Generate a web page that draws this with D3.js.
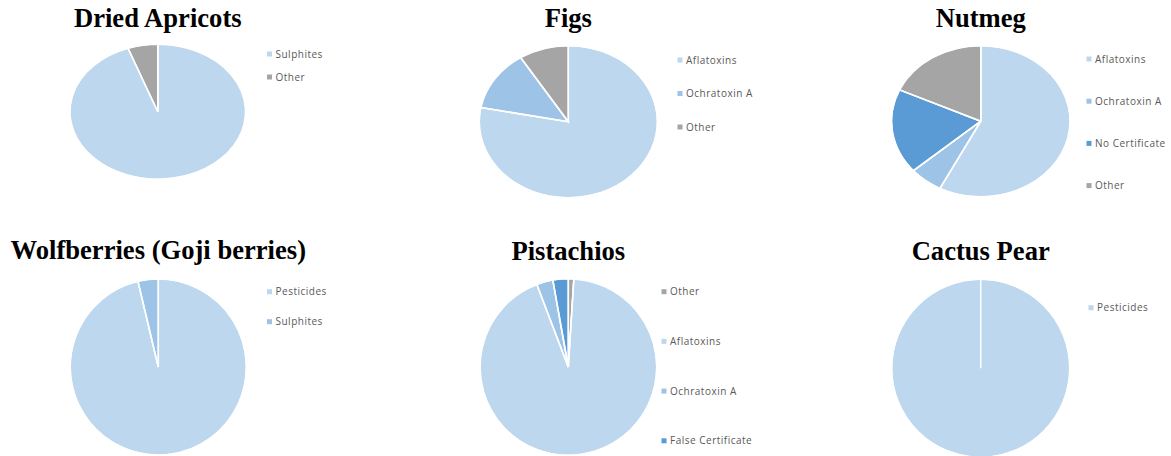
<!DOCTYPE html>
<html>
<head>
<meta charset="utf-8">
<script src="https://cdn.jsdelivr.net/npm/d3@7"></script>
<style>
  html, body { margin: 0; padding: 0; background: #fff; }
  svg { display: block; }
  .title { font-family: "Liberation Serif", "Times New Roman", serif; font-weight: bold; font-size: 26.6px; fill: #000; }
  .legend text { font-family: "Open Sans", "Liberation Sans", sans-serif; font-size: 10px; letter-spacing: 0.5px; fill: #595959; }
</style>
</head>
<body>
<svg id="chart" width="1171" height="456"></svg>
<script>
// Product titles
const products = ["Dried Apricots", "Figs", "Nutmeg", "Wolfberries (Goji berries)", "Pistachios", "Cactus Pear"];

// Hazard categories and shares per product (clockwise from 12 o'clock)
const apricotHazards = ["Sulphites", "Other"];
const apricotValues  = [94.5, 5.5];

const figHazards = ["Aflatoxins", "Ochratoxin A", "Other"];
const figValues  = [78, 13, 9];

const nutmegHazards = ["Aflatoxins", "Ochratoxin A", "No Certificate", "Other"];
const nutmegValues  = [19, 2, 6, 6];

const gojiHazards = ["Pesticides", "Sulphites"];
const gojiValues  = [26, 1];

const pistachioHazards = ["Other", "Aflatoxins", "Ochratoxin A", "False Certificate"];
const pistachioValues  = [1, 93.2, 3, 2.8];

const cactusHazards = ["Pesticides"];
const cactusValues  = [100];

// Colour for each hazard category
const hazardColor = {
  "Sulphites": "#BDD7EE",
  "Aflatoxins": "#BDD7EE",
  "Pesticides": "#BDD7EE",
  "Ochratoxin A": "#9DC3E6",
  "No Certificate": "#5B9BD5",
  "False Certificate": "#5B9BD5",
  "Other": "#A5A5A5"
};
// The Wolfberries sulphite slice sits next to pesticides and takes the second tone
const gojiColor = { "Pesticides": "#BDD7EE", "Sulphites": "#9DC3E6" };

const datasets = [
  { labels: apricotHazards,   values: apricotValues,   colors: hazardColor },
  { labels: figHazards,       values: figValues,       colors: hazardColor },
  { labels: nutmegHazards,    values: nutmegValues,    colors: hazardColor },
  { labels: gojiHazards,      values: gojiValues,      colors: gojiColor },
  { labels: pistachioHazards, values: pistachioValues, colors: hazardColor },
  { labels: cactusHazards,    values: cactusValues,    colors: hazardColor }
];

// Panel geometry: pie centre, radii, title baseline, legend anchor and spacing
const panels = [
  { cx: 157.8, cy: 111.7, rx: 87.8, ry: 67.4, titleY: 26.7, lx: 269.5, ly: 54,    step: 23 },
  { cx: 568.3, cy: 121.7, rx: 89,   ry: 76,   titleY: 27.3, lx: 680,   ly: 60,    step: 33.5 },
  { cx: 980.8, cy: 121.2, rx: 89.2, ry: 75.5, titleY: 27.3, lx: 1089,  ly: 59,    step: 42.2 },
  { cx: 158.3, cy: 367,   rx: 88,   ry: 88,   titleY: 259.3, lx: 269.5, ly: 291.7, step: 30 },
  { cx: 568.3, cy: 367,   rx: 88.3, ry: 88.3, titleY: 259.6, lx: 664,   ly: 291.7, step: 49.7 },
  { cx: 980.7, cy: 368.3, rx: 89,   ry: 89,   titleY: 259.6, lx: 1091,  ly: 307.7, step: 30 }
];

const svg = d3.select("#chart");

const pie = d3.pie().sort(null).value(d => d.value);

datasets.forEach((ds, i) => {
  const p = panels[i];
  const rows = ds.labels.map((l, k) => ({ label: l, value: ds.values[k] }));
  const arcs = pie(rows);

  const g = svg.append("g").attr("transform", `translate(${p.cx},${p.cy})`);

  // title
  svg.append("text")
    .attr("class", "title")
    .attr("x", p.cx)
    .attr("y", p.titleY)
    .attr("text-anchor", "middle")
    .text(products[i]);

  // pie drawn on a unit circle and stretched to the panel's ellipse
  const body = g.append("g").attr("transform", `scale(${p.rx},${p.ry})`);
  const arc = d3.arc().innerRadius(0).outerRadius(1);

  body.selectAll("path.slice")
    .data(arcs)
    .join("path")
    .attr("class", "slice")
    .attr("d", arc)
    .attr("fill", d => ds.colors[d.data.label])
    .attr("stroke", "#fff")
    .attr("stroke-width", 1.5)
    .attr("vector-effect", "non-scaling-stroke");

  // white separators along each slice's starting edge
  body.selectAll("line.sep")
    .data(arcs)
    .join("line")
    .attr("class", "sep")
    .attr("x1", 0).attr("y1", 0)
    .attr("x2", d => Math.sin(d.startAngle))
    .attr("y2", d => -Math.cos(d.startAngle))
    .attr("stroke", "#fff")
    .attr("stroke-width", 1.5)
    .attr("vector-effect", "non-scaling-stroke");

  // outer rim
  body.append("circle")
    .attr("r", 1)
    .attr("fill", "none")
    .attr("stroke", "#fff")
    .attr("stroke-width", 1)
    .attr("vector-effect", "non-scaling-stroke");

  // legend
  const leg = svg.append("g").attr("class", "legend")
    .attr("transform", `translate(${p.lx},${p.ly})`);
  const item = leg.selectAll("g")
    .data(rows)
    .join("g")
    .attr("transform", (d, k) => `translate(0,${k * p.step})`);
  item.append("rect")
    .attr("x", -2.5).attr("y", -2.5)
    .attr("width", 5).attr("height", 5)
    .attr("fill", d => ds.colors[d.label]);
  item.append("text")
    .attr("x", 6)
    .attr("y", 0)
    .attr("dy", "0.35em")
    .text(d => d.label);
});
</script>
</body>
</html>
